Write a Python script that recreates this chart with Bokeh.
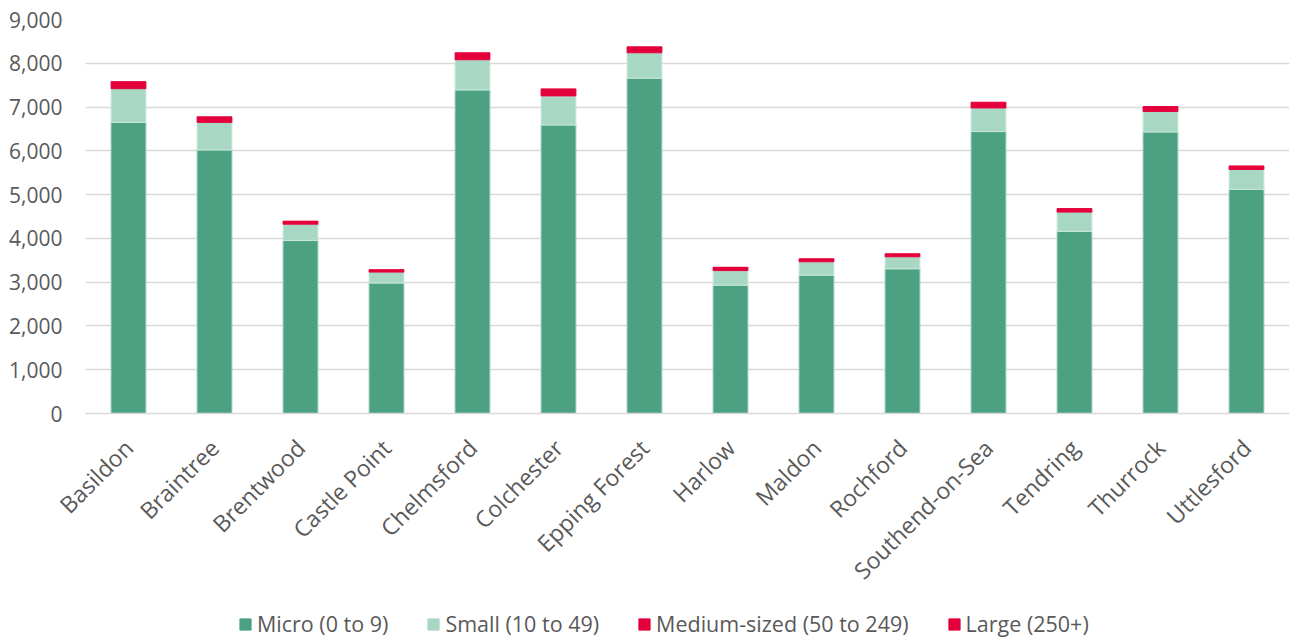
import math
from bokeh.plotting import figure
from bokeh.layouts import column
from bokeh.models import (Range1d, FactorRange, FixedTicker, NumeralTickFormatter,
                          Legend, LegendItem)
from bokeh.embed import file_html
from bokeh.resources import INLINE

districts = ["Basildon", "Braintree", "Brentwood", "Castle Point", "Chelmsford",
             "Colchester", "Epping Forest", "Harlow", "Maldon", "Rochford",
             "Southend-on-Sea", "Tendring", "Thurrock", "Uttlesford"]
micro = [6650, 6020, 3950, 2980, 7390, 6590, 7660, 2930, 3160, 3305, 6440, 4160, 6430, 5120]
small = [770, 630, 375, 250, 690, 665, 580, 335, 305, 275, 540, 440, 470, 455]
medium = [130, 105, 55, 42, 130, 130, 110, 60, 55, 55, 105, 65, 90, 65]
large = [30, 22, 13, 10, 30, 30, 25, 15, 13, 12, 25, 15, 22, 15]
series = ["Micro (0 to 9)", "Small (10 to 49)", "Medium-sized (50 to 249)", "Large (250+)"]
y_ticks = list(range(0, 9001, 1000))

colors = ["#4CA183", "#A8D8C4", "#E4003B", "#E4003B"]
edge_colors = ["#9ACDB6", "#C9E8DB", "#E4003B", "#E4003B"]
keys = ["micro", "small", "medium", "large"]

data = dict(district=districts, micro=micro, small=small, medium=medium, large=large)

p = figure(x_range=FactorRange(*districts, range_padding=0), y_range=Range1d(0, 9000),
           width=1300, height=600, output_backend="svg", toolbar_location=None,
           min_border_left=85, min_border_right=11, min_border_top=19, min_border_bottom=187)
p.outline_line_color = None
p.background_fill_color = "white"

p.vbar_stack(keys, x="district", width=0.405, source=data, color=colors,
             line_color=edge_colors, line_width=1)

p.xgrid.grid_line_color = None
p.ygrid.grid_line_color = "#D9D9D9"
p.ygrid.grid_line_width = 1.3
p.ygrid.ticker = FixedTicker(ticks=y_ticks)

p.yaxis.ticker = FixedTicker(ticks=y_ticks)
p.yaxis.formatter = NumeralTickFormatter(format="0,0")
p.yaxis.axis_line_color = None
p.yaxis.major_tick_line_color = None
p.yaxis.minor_tick_line_color = None
p.yaxis.major_label_text_font = "Open Sans"
p.yaxis.major_label_text_font_size = "21px"
p.yaxis.major_label_text_color = "#595959"
p.yaxis.major_label_standoff = 17

p.xaxis.axis_line_color = "#D9D9D9"
p.xaxis.axis_line_width = 1.3
p.xaxis.major_tick_line_color = None
p.xaxis.minor_tick_line_color = None
p.xaxis.major_label_orientation = math.pi / 4
p.xaxis.major_label_text_font = "Open Sans"
p.xaxis.major_label_text_font_size = "23px"
p.xaxis.major_label_text_color = "#595959"
p.xaxis.major_label_standoff = 24

# legend strip below the chart
lf = figure(width=1300, height=38, output_backend="svg", toolbar_location=None,
            x_range=Range1d(0, 1), y_range=Range1d(0, 1),
            min_border_left=0, min_border_right=0, min_border_top=0, min_border_bottom=0)
lf.outline_line_color = None
lf.xaxis.visible = False
lf.yaxis.visible = False
lf.xgrid.visible = False
lf.ygrid.visible = False

items = []
for s, c in zip(series, colors):
    # off-range swatch renderer, used only to draw the legend glyph
    r = lf.vbar(x=[-10], top=[-10], bottom=[-11], width=0.1, fill_color=c, line_color=c)
    items.append(LegendItem(label=s, renderers=[r]))

legend = Legend(items=items, orientation="horizontal", location=(153, 0),
                glyph_width=14, glyph_height=14, label_standoff=5, spacing=38,
                padding=0, margin=0, border_line_color=None, background_fill_alpha=0,
                label_text_font="Open Sans", label_text_font_size="21.5px",
                label_text_color="#595959")
lf.add_layout(legend, "center")

layout = column(p, lf, spacing=0)
open("out.html", "w").write(file_html(layout, INLINE))
